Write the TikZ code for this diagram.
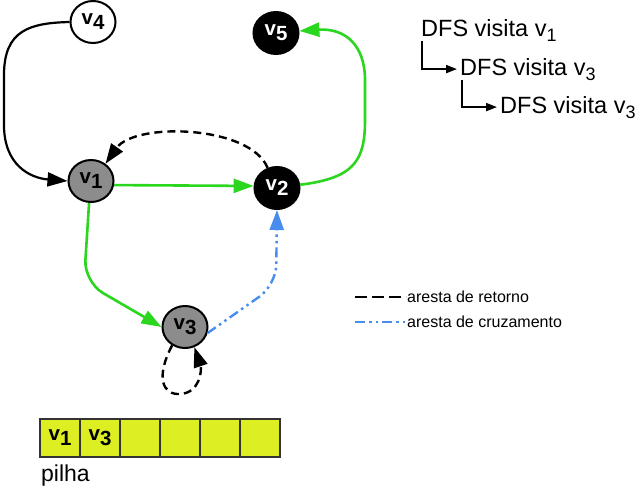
\documentclass[tikz,border=0pt]{standalone}
\usepackage{fontspec}
\setmainfont{Liberation Sans}
\usetikzlibrary{arrows.meta,shapes.geometric}
\definecolor{vgreen}{RGB}{42,214,30}
\definecolor{vblue}{RGB}{72,140,240}
\definecolor{vgray}{RGB}{140,140,140}
\definecolor{vyellow}{RGB}{221,238,34}
\newcommand\vlab[1]{v\raisebox{-5pt}{#1}}
\newcommand\dsub[1]{\raisebox{-5pt}{\fontsize{18}{18}\selectfont #1}}
\begin{document}
\begin{tikzpicture}[x=1pt,y=-1pt,
  vert/.style={ellipse, draw=black, line width=2pt, minimum width=45pt, minimum height=42pt, inner sep=0pt, font=\fontsize{20.5}{20.5}\selectfont\bfseries},
  vwhite/.style={vert, fill=white},
  vblack/.style={vert, fill=black, text=white},
  vgrey/.style={vert, fill=vgray},
  bigtip/.style={-{Triangle[length=20pt,width=14pt]}},
  smalltip/.style={-{Triangle[length=11pt,width=8pt]}},
  blackedge/.style={draw=black, line width=2.2pt, bigtip},
  greenedge/.style={draw=vgreen, line width=2.6pt, bigtip},
  backedge/.style={draw=black, line width=2.4pt, dash pattern=on 8pt off 5pt},
  crossedge/.style={draw=vblue, line width=2.4pt, dash pattern=on 10pt off 4pt on 2.5pt off 4pt on 2.5pt off 4pt},
  dfstext/.style={anchor=base west, inner sep=0pt, font=\fontsize{23.5}{23.5}\selectfont},
  legtext/.style={anchor=west, inner sep=1pt, font=\fontsize{16}{16}\selectfont},
  cell/.style={rectangle, draw=black!80, line width=1.2pt, fill=vyellow, minimum width=40pt, minimum height=38pt, inner sep=0pt, font=\fontsize{20.5}{20.5}\selectfont\bfseries}
]
\useasboundingbox (0,0) rectangle (642,488);

% vertices
\node[vwhite] (v4) at (93,22) {\vlab{4}};
\node[vblack] (v5) at (276,33) {\vlab{5}};
\node[vgrey]  (v1) at (91,181) {\vlab{1}};
\node[vblack] (v2) at (277,188) {\vlab{2}};
\node[vgrey]  (v3) at (185,327) {\vlab{3}};

% edges
\draw[blackedge] (v4.west) .. controls (30,23) and (4,30) .. (4,75) -- (4,125) .. controls (4,165) and (30,178) .. (v1.west);
\draw[greenedge] (v1.-10) -- (v2.175);
\draw[greenedge] (v2.8) .. controls (355,178) and (365,160) .. (365,120) -- (365,80) .. controls (365,45) and (345,28) .. (v5.5);
\draw[backedge, bigtip] (v2.115) .. controls (250,125) and (135,122) .. (v1.50);
\draw[greenedge, rounded corners=22pt] (v1.265) -- (84,282) -- (v3.west);
\draw[crossedge, bigtip, rounded corners=20pt] (v3.-15) -- (276,285) -- (v2.south);
\draw[backedge, bigtip] (v3.235) .. controls (155,378) and (163,395) .. (180,394) .. controls (200,393) and (202,370) .. (v3.295);

% DFS trace
\node[dfstext] (d1) at (421,36) {DFS visita v\dsub{1}};
\node[dfstext] (d2) at (460,75) {DFS visita v\dsub{3}};
\node[dfstext] (d3) at (500,113) {DFS visita v\dsub{3}};
\draw[line width=1.8pt, smalltip] ([xshift=1pt]d1.south west) |- ([xshift=-3pt]d2.west);
\draw[line width=1.8pt, smalltip] ([xshift=2pt]d2.south west) |- ([xshift=-3pt]d3.west);

% legend
\node[legtext] (lt1) at (406,297) {aresta de retorno};
\node[legtext] (lt2) at (406,322) {aresta de cruzamento};
\coordinate (la1) at (355,297);
\coordinate (la2) at (355,322);
\draw[draw=black, line width=2.4pt, dash pattern=on 12pt off 5pt] (la1) -- (lt1.west);
\draw[crossedge] (la2) -- (lt2.west);

% stack
\node[cell] (c1) at (60,438) {\vlab{1}};
\node[cell] (c2) at (100,438) {\vlab{3}};
\node[cell] (c3) at (140,438) {};
\node[cell] (c4) at (180,438) {};
\node[cell] (c5) at (220,438) {};
\node[cell] (c6) at (260,438) {};
\node[anchor=base west, inner sep=0pt, font=\fontsize{23}{23}\selectfont] (pilha) at (41,481) {pilha};
\end{tikzpicture}
\end{document}
